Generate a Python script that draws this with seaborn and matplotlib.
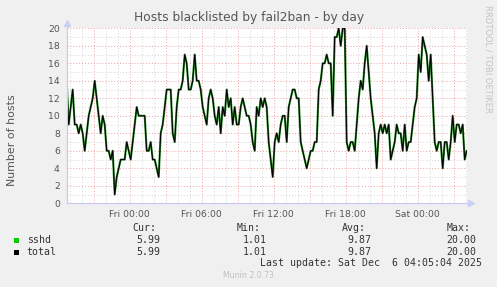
import numpy as np
import pandas as pd
import matplotlib
matplotlib.use("Agg")
import matplotlib.pyplot as plt
import matplotlib.dates as mdates
from matplotlib.patches import Rectangle
from matplotlib.lines import Line2D
import seaborn as sns

# ---------------- data ----------------
start_time = "2025-12-04 18:45"
step = "10min"
hosts = [14, 9, 11, 13, 9, 9, 8, 9, 8, 6,
         8, 10, 11, 12, 14, 12, 10, 8, 10, 9,
         6, 6, 5, 6, 1, 3, 4, 5, 5, 5,
         7, 6, 5, 7, 9, 11, 10, 10, 10, 10,
         6, 6, 7, 5, 5, 4, 3, 8, 9, 11,
         13, 13, 13, 8, 7, 11, 13, 13, 14, 17,
         16, 13, 13, 14, 17, 14, 14, 13, 11, 10,
         9, 12, 13, 12, 10, 9, 11, 8, 11, 10,
         13, 11, 12, 9, 11, 9, 9, 11, 12, 11,
         10, 10, 9, 7, 6, 11, 10, 12, 11, 12,
         11, 7, 5, 3, 7, 8, 7, 9, 10, 10,
         7, 11, 12, 13, 13, 12, 12, 7, 6, 5,
         4, 5, 6, 6, 7, 7, 13, 14, 16, 16,
         17, 16, 16, 10, 19, 19, 20, 18, 20, 20,
         7, 6, 7, 7, 6, 9, 12, 14, 13, 16,
         18, 15, 12, 10, 8, 4, 8, 9, 8, 9,
         8, 9, 5, 6, 7, 9, 8, 8, 6, 9,
         6, 7, 7, 9, 11, 12, 17, 15, 19, 18,
         17, 14, 17, 12, 7, 6, 7, 7, 4, 7,
         7, 5, 7, 10, 7, 9, 9, 8, 9, 5,
         6]
series_names = ["sshd", "total"]
series_colors = ["#00cc00", "#000000"]
x_tick_hours = [0, 6, 12, 18]
y_ticks = [0, 2, 4, 6, 8, 10, 12, 14, 16, 18, 20]
stats_header = ["Cur:", "Min:", "Avg:", "Max:"]
stats_sshd = ["5.99", "1.01", "9.87", "20.00"]
stats_total = ["5.99", "1.01", "9.87", "20.00"]
title = "Hosts blacklisted by fail2ban - by day"
ylabel = "Number of hosts"
last_update = "Last update: Sat Dec  6 04:05:04 2025"
footer = "Munin 2.0.73"
watermark = "RRDTOOL / TOBI OETIKER"

times = pd.date_range(start_time, periods=len(hosts), freq=step)
df = pd.DataFrame({"time": times, "sshd": hosts, "total": hosts})

# ---------------- figure ----------------
sns.set_theme(style="white")
plt.rcParams["font.family"] = ["DejaVu Sans"]
W, H = 497, 287
BG = "#f0f0f0"
fig = plt.figure(figsize=(W / 100, H / 100), dpi=100, facecolor=BG)

def fx(x):
    return x / W

def fy(y):
    return 1 - y / H

x0, x1, y0, y1 = 66.7, 466.7, 28.3, 203.3
ax = fig.add_axes([fx(x0), fy(y1), (x1 - x0) / W, (y1 - y0) / H])
ax.set_facecolor("white")

sns.lineplot(data=df, x="time", y="sshd", ax=ax, color="#2a8a2a",
             lw=1.5, zorder=3)
sns.lineplot(data=df, x="time", y="total", ax=ax, color=series_colors[1],
             lw=0.75, zorder=4)

ax.set_xlim(times[0], times[-1])
ax.set_ylim(0, 20)
ax.set_xlabel("")
ax.set_ylabel("")

ax.xaxis.set_major_locator(mdates.HourLocator(byhour=range(0, 24, 3)))
ax.xaxis.set_minor_locator(mdates.HourLocator())

def xfmt(v, pos):
    d = mdates.num2date(v)
    if d.hour in x_tick_hours:
        return d.strftime("%a %H:%M")
    return ""

ax.xaxis.set_major_formatter(plt.FuncFormatter(xfmt))
ax.set_yticks(y_ticks)
ax.yaxis.set_minor_locator(plt.MultipleLocator(1))

ax.grid(which="minor", color="#d4d4d4", linestyle=(0, (1, 2)), lw=0.7, zorder=0)
ax.grid(which="major", color="#f0a0a0", linestyle=(0, (1, 2)), lw=0.7, zorder=1)
ax.set_axisbelow(True)

ax.tick_params(axis="x", which="major", length=3, width=0.7, color="#e87070",
               labelsize=6.7, labelcolor="#555555", pad=2, direction="out")
ax.tick_params(axis="x", which="minor", length=2, width=0.6, color="#c8c8c8",
               direction="out")
ax.tick_params(axis="y", which="major", length=3, width=0.7, color="#e87070",
               labelsize=6.7, labelcolor="#555555", pad=2, direction="out")
ax.tick_params(axis="y", which="minor", length=2, width=0.6, color="#c8c8c8",
               direction="out")
for s in ["top", "right"]:
    ax.spines[s].set_visible(False)
for s in ["left", "bottom"]:
    ax.spines[s].set_color("#c8c8f0")
    ax.spines[s].set_linewidth(0.8)

# axis arrows
axis_col = "#c8c8f0"
fig.add_artist(Line2D([fx(x0), fx(x0)], [fy(y1), fy(22)], color=axis_col, lw=0.8))
fig.add_artist(Line2D([fx(x1), fx(470)], [fy(y1), fy(y1)], color=axis_col, lw=0.8))
fig.add_artist(Line2D([fx(x0)], [fy(23)], marker="^", markersize=4,
                      color="#c8d0f8", lw=0))
fig.add_artist(Line2D([fx(471)], [fy(y1)], marker=">", markersize=4,
                      color="#c8d0f8", lw=0))

# title / labels
fig.text(fx(249), fy(17), title, ha="center", va="center", fontsize=8.8,
         color="#555555")
fig.text(fx(12), fy(140), ylabel, ha="center", va="center", rotation=90,
         fontsize=7.9, color="#555555")
fig.text(fx(488), fy(5), watermark, ha="center", va="top", rotation=270,
         fontsize=6.0, color="#c4c4c4")

# legend
mono = "DejaVu Sans Mono"
lc = "#333333"
fs = 7.1
hdr_x = [132, 237, 342, 447]
val_x = [160.7, 266.7, 371.7, 476.7]
for h, xh in zip(stats_header, hdr_x):
    fig.text(fx(xh), fy(228), h, family=mono, fontsize=fs, color=lc,
             ha="left", va="center")
rows = [(series_names[0], series_colors[0], stats_sshd, 240),
        (series_names[1], series_colors[1], stats_total, 252)]
for name, col, vals, yy in rows:
    fig.patches.append(Rectangle((fx(14), fy(yy + 2.5)), 5 / W, 5 / H,
                                 transform=fig.transFigure, facecolor=col,
                                 edgecolor="none"))
    fig.text(fx(26.7), fy(yy), name, family=mono, fontsize=fs, color=lc,
             ha="left", va="center")
    for v, xv in zip(vals, val_x):
        fig.text(fx(xv), fy(yy), v, family=mono, fontsize=fs, color=lc,
                 ha="right", va="center")
fig.text(fx(482.3), fy(263.5), last_update, family=mono, fontsize=fs,
         color=lc, ha="right", va="center")
fig.text(fx(248), fy(276), footer, fontsize=5.6, color="#c0c0c0",
         ha="center", va="center")

fig.savefig("out.png", dpi=100, facecolor=BG)
